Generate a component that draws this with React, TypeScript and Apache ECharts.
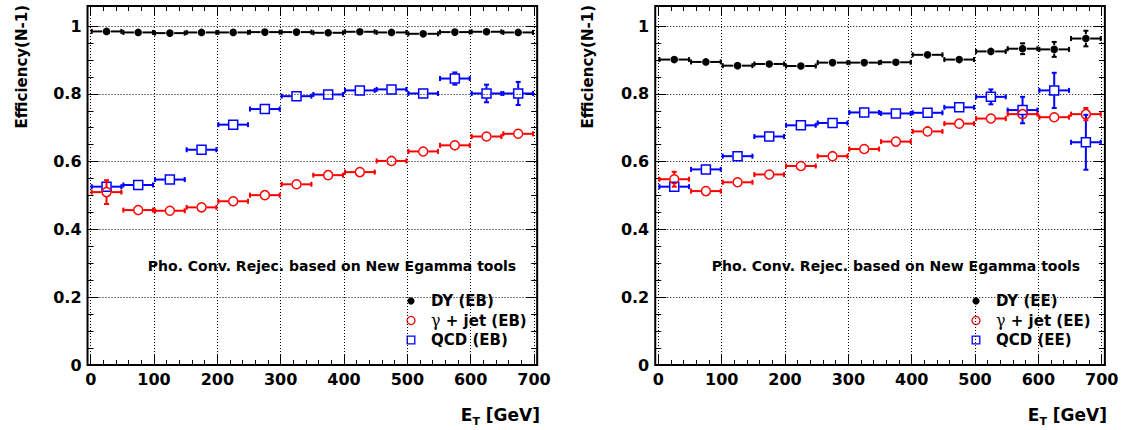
import React, { useEffect, useRef } from "react";
import * as echarts from "echarts";

// ---------- data ----------
const binCenters = [25, 75, 125, 175, 225, 275, 325, 375, 425, 475, 525, 575, 625, 675];
const binHalfWidth = 25;

// Barrel (EB)
const dyEB = [0.984, 0.981, 0.979, 0.981, 0.981, 0.982, 0.982, 0.980, 0.983, 0.981, 0.977, 0.982, 0.983, 0.981];
const dyEBErr = [0.002, 0.002, 0.002, 0.002, 0.002, 0.002, 0.002, 0.002, 0.002, 0.002, 0.003, 0.003, 0.003, 0.003];
const gjEB = [0.510, 0.457, 0.455, 0.465, 0.483, 0.501, 0.533, 0.560, 0.569, 0.602, 0.630, 0.648, 0.674, 0.682];
const gjEBErr = [0.035, 0.006, 0.004, 0.004, 0.004, 0.004, 0.004, 0.004, 0.004, 0.004, 0.005, 0.005, 0.006, 0.006];
const qcdEB = [0.526, 0.531, 0.547, 0.635, 0.709, 0.755, 0.793, 0.798, 0.810, 0.813, 0.801, 0.845, 0.801, 0.801];
const qcdEBErr = [0.006, 0.004, 0.004, 0.005, 0.005, 0.006, 0.006, 0.006, 0.007, 0.008, 0.014, 0.018, 0.026, 0.034];

// Endcap (EE)
const dyEE = [0.901, 0.894, 0.883, 0.888, 0.882, 0.892, 0.892, 0.893, 0.915, 0.901, 0.925, 0.933, 0.931, 0.963];
const dyEEErr = [0.003, 0.003, 0.003, 0.003, 0.003, 0.003, 0.003, 0.003, 0.004, 0.005, 0.010, 0.016, 0.022, 0.023];
const gjEE = [0.548, 0.513, 0.539, 0.562, 0.587, 0.616, 0.637, 0.659, 0.689, 0.712, 0.727, 0.740, 0.731, 0.740];
const gjEEErr = [0.022, 0.006, 0.005, 0.005, 0.005, 0.005, 0.005, 0.005, 0.005, 0.006, 0.006, 0.008, 0.008, 0.018];
const qcdEE = [0.526, 0.577, 0.616, 0.674, 0.707, 0.714, 0.745, 0.742, 0.744, 0.760, 0.791, 0.752, 0.810, 0.657];
const qcdEEErr = [0.006, 0.005, 0.005, 0.006, 0.006, 0.007, 0.007, 0.007, 0.008, 0.016, 0.022, 0.039, 0.052, 0.081];

const xTickLabels = ["0", "100", "200", "300", "400", "500", "600", "700"];
const yTickLabels = ["0", "0.2", "0.4", "0.6", "0.8", "1"];

const legendEB = ["DY (EB)", "γ + jet (EB)", "QCD (EB)"];
const legendEE = ["DY (EE)", "γ + jet (EE)", "QCD (EE)"];
const noteText = "Pho. Conv. Rejec. based on New Egamma tools";
const yTitle = "Efficiency(N-1)";

// ---------- layout ----------
const FONT = "'DejaVu Sans', 'Liberation Sans', Arial, sans-serif";
const TOP = 6;
const Y0 = 365; // pixel of y = 0
const UNIT = 339; // px per 1.0 in y
const PX100 = 63.33; // px per 100 GeV
const panels = [
  { x0: 90.7, legend: legendEB, dy: dyEB, dyE: dyEBErr, gj: gjEB, gjE: gjEBErr, qcd: qcdEB, qcdE: qcdEBErr, legX: 411, noteX: 332, titleX: 22, etRight: 540 },
  { x0: 658.4, legend: legendEE, dy: dyEE, dyE: dyEEErr, gj: gjEE, gjE: gjEEErr, qcd: qcdEE, qcdE: qcdEEErr, legX: 976, noteX: 896, titleX: 588, etRight: 1107 },
];

const COLORS = { dy: "#000000", gj: "#ff0000", qcd: "#0000ff" };

function makeRender(color: string, marker: "dot" | "circle" | "square") {
  return (params: any, api: any) => {
    const x = api.value(0);
    const y = api.value(1);
    const e = api.value(2);
    const c = api.coord([x, y]);
    const l = api.coord([x - binHalfWidth, y]);
    const r = api.coord([x + binHalfWidth, y]);
    const t = api.coord([x, y + e]);
    const b = api.coord([x, y - e]);
    const rad = marker === "dot" ? 3.8 : 4.5;
    const gap = rad + 0.5;
    const lw = 2;
    const cap = 2.5;
    const st = { stroke: color, lineWidth: lw };
    const children: any[] = [];
    const ln = (x1: number, y1: number, x2: number, y2: number) =>
      children.push({ type: "line", shape: { x1, y1, x2, y2 }, style: st });
    ln(l[0], c[1], c[0] - gap, c[1]);
    ln(c[0] + gap, c[1], r[0], c[1]);
    ln(l[0] + 1, c[1] - cap, l[0] + 1, c[1] + cap);
    ln(r[0] - 1, c[1] - cap, r[0] - 1, c[1] + cap);
    if (c[1] - t[1] > gap + 1) {
      ln(c[0], t[1], c[0], c[1] - gap);
      ln(c[0], c[1] + gap, c[0], b[1]);
      ln(c[0] - cap, t[1], c[0] + cap, t[1]);
      ln(c[0] - cap, b[1], c[0] + cap, b[1]);
    }
    if (marker === "dot") {
      children.push({ type: "circle", shape: { cx: c[0], cy: c[1], r: rad }, style: { fill: color } });
    } else if (marker === "circle") {
      children.push({ type: "circle", shape: { cx: c[0], cy: c[1], r: rad }, style: { fill: "none", stroke: color, lineWidth: 1.5 } });
    } else {
      children.push({ type: "rect", shape: { x: c[0] - rad, y: c[1] - rad, width: rad * 2, height: rad * 2 }, style: { fill: "none", stroke: color, lineWidth: 1.5 } });
    }
    return { type: "group", children };
  };
}

function buildOption() {
  const grid: any[] = [];
  const xAxis: any[] = [];
  const yAxis: any[] = [];
  const series: any[] = [];
  const graphic: any[] = [];
  const dotted = { color: "#000", width: 1, type: [1, 2] };
  const tickFont = { fontFamily: FONT, fontWeight: "bold", fontSize: 16, color: "#000" };

  panels.forEach((p) => {
    const dataLeft = p.x0 - 0.05 * PX100; // x range -5 .. 705
    const dataWidth = 7.1 * PX100;
    const labelWidth = 7 * PX100;
    const fullH = Y0 - TOP;
    const gBase = grid.length;
    // data grid with frame
    grid.push({ left: dataLeft, top: TOP, width: dataWidth, height: fullH, show: true, borderColor: "#000", borderWidth: 2, backgroundColor: "transparent" });
    // x label grid
    grid.push({ left: p.x0, top: TOP, width: labelWidth, height: fullH });
    // y label grid (0..1)
    grid.push({ left: dataLeft, top: Y0 - UNIT, width: dataWidth, height: UNIT });

    const xBase = xAxis.length;
    const yBase = yAxis.length;
    // data axes
    xAxis.push({ gridIndex: gBase, type: "value", min: -5, max: 705, show: false });
    yAxis.push({ gridIndex: gBase, type: "value", min: 0, max: fullH / UNIT, show: false });
    // x label axes
    xAxis.push({
      gridIndex: gBase + 1, type: "value", position: "bottom", min: 0, max: 700, interval: 100,
      axisLine: { show: false },
      axisTick: { show: true, inside: true, length: 10, lineStyle: { color: "#000", width: 1 } },
      minorTick: { show: true, splitNumber: 5, length: 5, lineStyle: { color: "#000", width: 1 } },
      splitLine: { show: true, lineStyle: dotted },
      axisLabel: { ...tickFont, margin: 6, formatter: (v: number) => xTickLabels[Math.round(v / 100)] ?? "" },
    });
    xAxis.push({
      gridIndex: gBase + 1, type: "value", position: "top", min: 0, max: 700, interval: 100,
      axisLine: { show: false },
      axisTick: { show: true, inside: true, length: 10, lineStyle: { color: "#000", width: 1 } },
      minorTick: { show: true, splitNumber: 5, length: 5, lineStyle: { color: "#000", width: 1 } },
      splitLine: { show: false },
      axisLabel: { show: false },
    });
    yAxis.push({ gridIndex: gBase + 1, type: "value", min: 0, max: 1, show: false });
    // y label axes
    xAxis.push({ gridIndex: gBase + 2, type: "value", min: 0, max: 1, show: false });
    yAxis.push({
      gridIndex: gBase + 2, type: "value", position: "left", min: 0, max: 1, interval: 0.2,
      axisLine: { show: false },
      axisTick: { show: true, inside: true, length: 11, lineStyle: { color: "#000", width: 1 } },
      minorTick: { show: true, splitNumber: 4, length: 6, lineStyle: { color: "#000", width: 1 } },
      splitLine: { show: true, lineStyle: dotted },
      axisLabel: { ...tickFont, margin: 6, formatter: (v: number) => yTickLabels[Math.round(v / 0.2)] ?? "" },
    });
    yAxis.push({
      gridIndex: gBase + 2, type: "value", position: "right", min: 0, max: 1, interval: 0.2,
      axisLine: { show: false },
      axisTick: { show: true, inside: true, length: 11, lineStyle: { color: "#000", width: 1 } },
      minorTick: { show: true, splitNumber: 4, length: 6, lineStyle: { color: "#000", width: 1 } },
      splitLine: { show: false },
      axisLabel: { show: false },
    });

    const mk = (name: string, vals: number[], errs: number[], color: string, marker: any, z: number) => ({
      type: "custom", name, xAxisIndex: xBase, yAxisIndex: yBase, clip: false, z,
      renderItem: makeRender(color, marker),
      encode: { x: 0, y: 1 },
      data: binCenters.map((x, i) => [x, vals[i], errs[i]]),
    });
    series.push(mk(p.legend[0], p.dy, p.dyE, COLORS.dy, "dot", 5));
    series.push(mk(p.legend[1], p.gj, p.gjE, COLORS.gj, "circle", 4));
    series.push(mk(p.legend[2], p.qcd, p.qcdE, COLORS.qcd, "square", 3));

    // note text
    graphic.push({ type: "text", x: p.noteX, y: 266, style: { text: noteText, font: `bold 14px ${FONT}`, fill: "#000", textAlign: "center", textVerticalAlign: "middle" } });
    // legend
    const rows = [301, 320.5, 340];
    graphic.push({ type: "circle", shape: { cx: p.legX, cy: rows[0], r: 3.6 }, style: { fill: COLORS.dy } });
    graphic.push({ type: "circle", shape: { cx: p.legX, cy: rows[1], r: 4 }, style: { fill: "none", stroke: COLORS.gj, lineWidth: 1.3 } });
    graphic.push({ type: "rect", shape: { x: p.legX - 3.8, y: rows[2] - 3.8, width: 7.6, height: 7.6 }, style: { fill: "none", stroke: COLORS.qcd, lineWidth: 1.3 } });
    p.legend.forEach((name, i) => {
      const isG = name.startsWith("γ");
      graphic.push({
        type: "text", x: p.legX + 20, y: rows[i],
        style: {
          text: isG ? `{g|γ}{b|${name.slice(1)}}` : `{b|${name}}`,
          rich: {
            b: { font: `bold 15px ${FONT}`, fill: "#000" },
            g: { font: `16px 'DejaVu Serif', serif`, fill: "#000" },
          },
          textAlign: "left", textVerticalAlign: "middle",
        },
      });
    });
    // x title
    graphic.push({
      type: "text", x: p.etRight, y: 415,
      style: {
        text: "{a|E}{s|T}{a| [GeV]}",
        rich: {
          a: { font: `bold 17px ${FONT}`, fill: "#000", lineHeight: 22 },
          s: { font: `bold 11px ${FONT}`, fill: "#000", padding: [12, 0, 0, 0] },
        },
        textAlign: "right", textVerticalAlign: "middle",
      },
    });
    // y title
    graphic.push({
      type: "text", x: p.titleX, y: 5, rotation: Math.PI / 2,
      style: { text: yTitle, font: `bold 15px ${FONT}`, fill: "#000", textAlign: "right", textVerticalAlign: "middle" },
    });
  });

  return { animation: false, backgroundColor: "#fff", grid, xAxis, yAxis, series, graphic };
}

export default function App() {
  const ref = useRef<HTMLDivElement>(null);
  useEffect(() => {
    if (!ref.current) return;
    const chart = echarts.init(ref.current, undefined, { renderer: "svg" });
    chart.setOption(buildOption() as any);
    return () => chart.dispose();
  }, []);
  return (
    <div
      ref={ref}
      style={{ position: "absolute", left: 0, top: 0, width: 1124, height: 430, background: "#fff" }}
    />
  );
}
